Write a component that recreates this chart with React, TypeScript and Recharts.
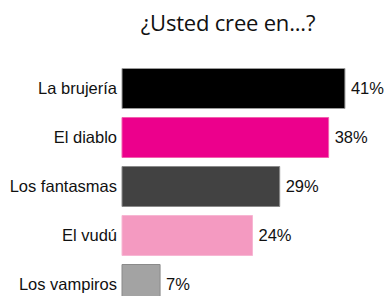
import React from 'react';
import { BarChart, Bar, XAxis, YAxis, Cell, LabelList } from 'recharts';

const categories = ['La brujería', 'El diablo', 'Los fantasmas', 'El vudú', 'Los vampiros'];
const values = [41, 38, 29, 24, 7];
const fills = ['#000000', '#ec008c', '#424242', '#f49ac1', '#a3a3a3'];
const strokes = ['#9a9a9a', '#f25fae', '#8a8a8a', '#f7b6d3', '#8a8a8a'];

const data = categories.map((name, i) => ({ name, value: values[i] }));

const FONT = '"Liberation Sans", Arial, sans-serif';

const App: React.FC = () => {
  return (
    <div style={{ position: 'absolute', left: 0, top: 0, width: 386, height: 296, overflow: 'hidden', background: '#fff' }}>
      <div
        style={{
          position: 'absolute',
          left: 0,
          width: 456,
          top: 7,
          textAlign: 'center',
          fontFamily: '"Open Sans", sans-serif',
          fontSize: 22,
          color: '#111',
          letterSpacing: -0.2,
        }}
      >
        ¿Usted cree en...?
      </div>
      <BarChart
        width={386}
        height={320}
        data={data}
        layout="vertical"
        margin={{ top: 63.5, right: 3, bottom: 11.5, left: 0 }}
        barSize={40}
      >
        <XAxis type="number" domain={[0, 48]} hide />
        <YAxis
          type="category"
          dataKey="name"
          width={122}
          axisLine={false}
          tickLine={false}
          tickSize={0}
          tickMargin={5}
          tick={{ fill: '#111', fontSize: 16.5, fontFamily: FONT }}
        />
        <Bar dataKey="value" isAnimationActive={false}>
          {data.map((d, i) => (
            <Cell key={d.name} fill={fills[i]} stroke={strokes[i]} strokeWidth={1} />
          ))}
          <LabelList
            dataKey="value"
            position="right"
            offset={6}
            formatter={(v: any) => `${v}%`}
            style={{ fill: '#111', fontSize: 16.5, fontFamily: FONT }}
          />
        </Bar>
      </BarChart>
    </div>
  );
};

export default App;
